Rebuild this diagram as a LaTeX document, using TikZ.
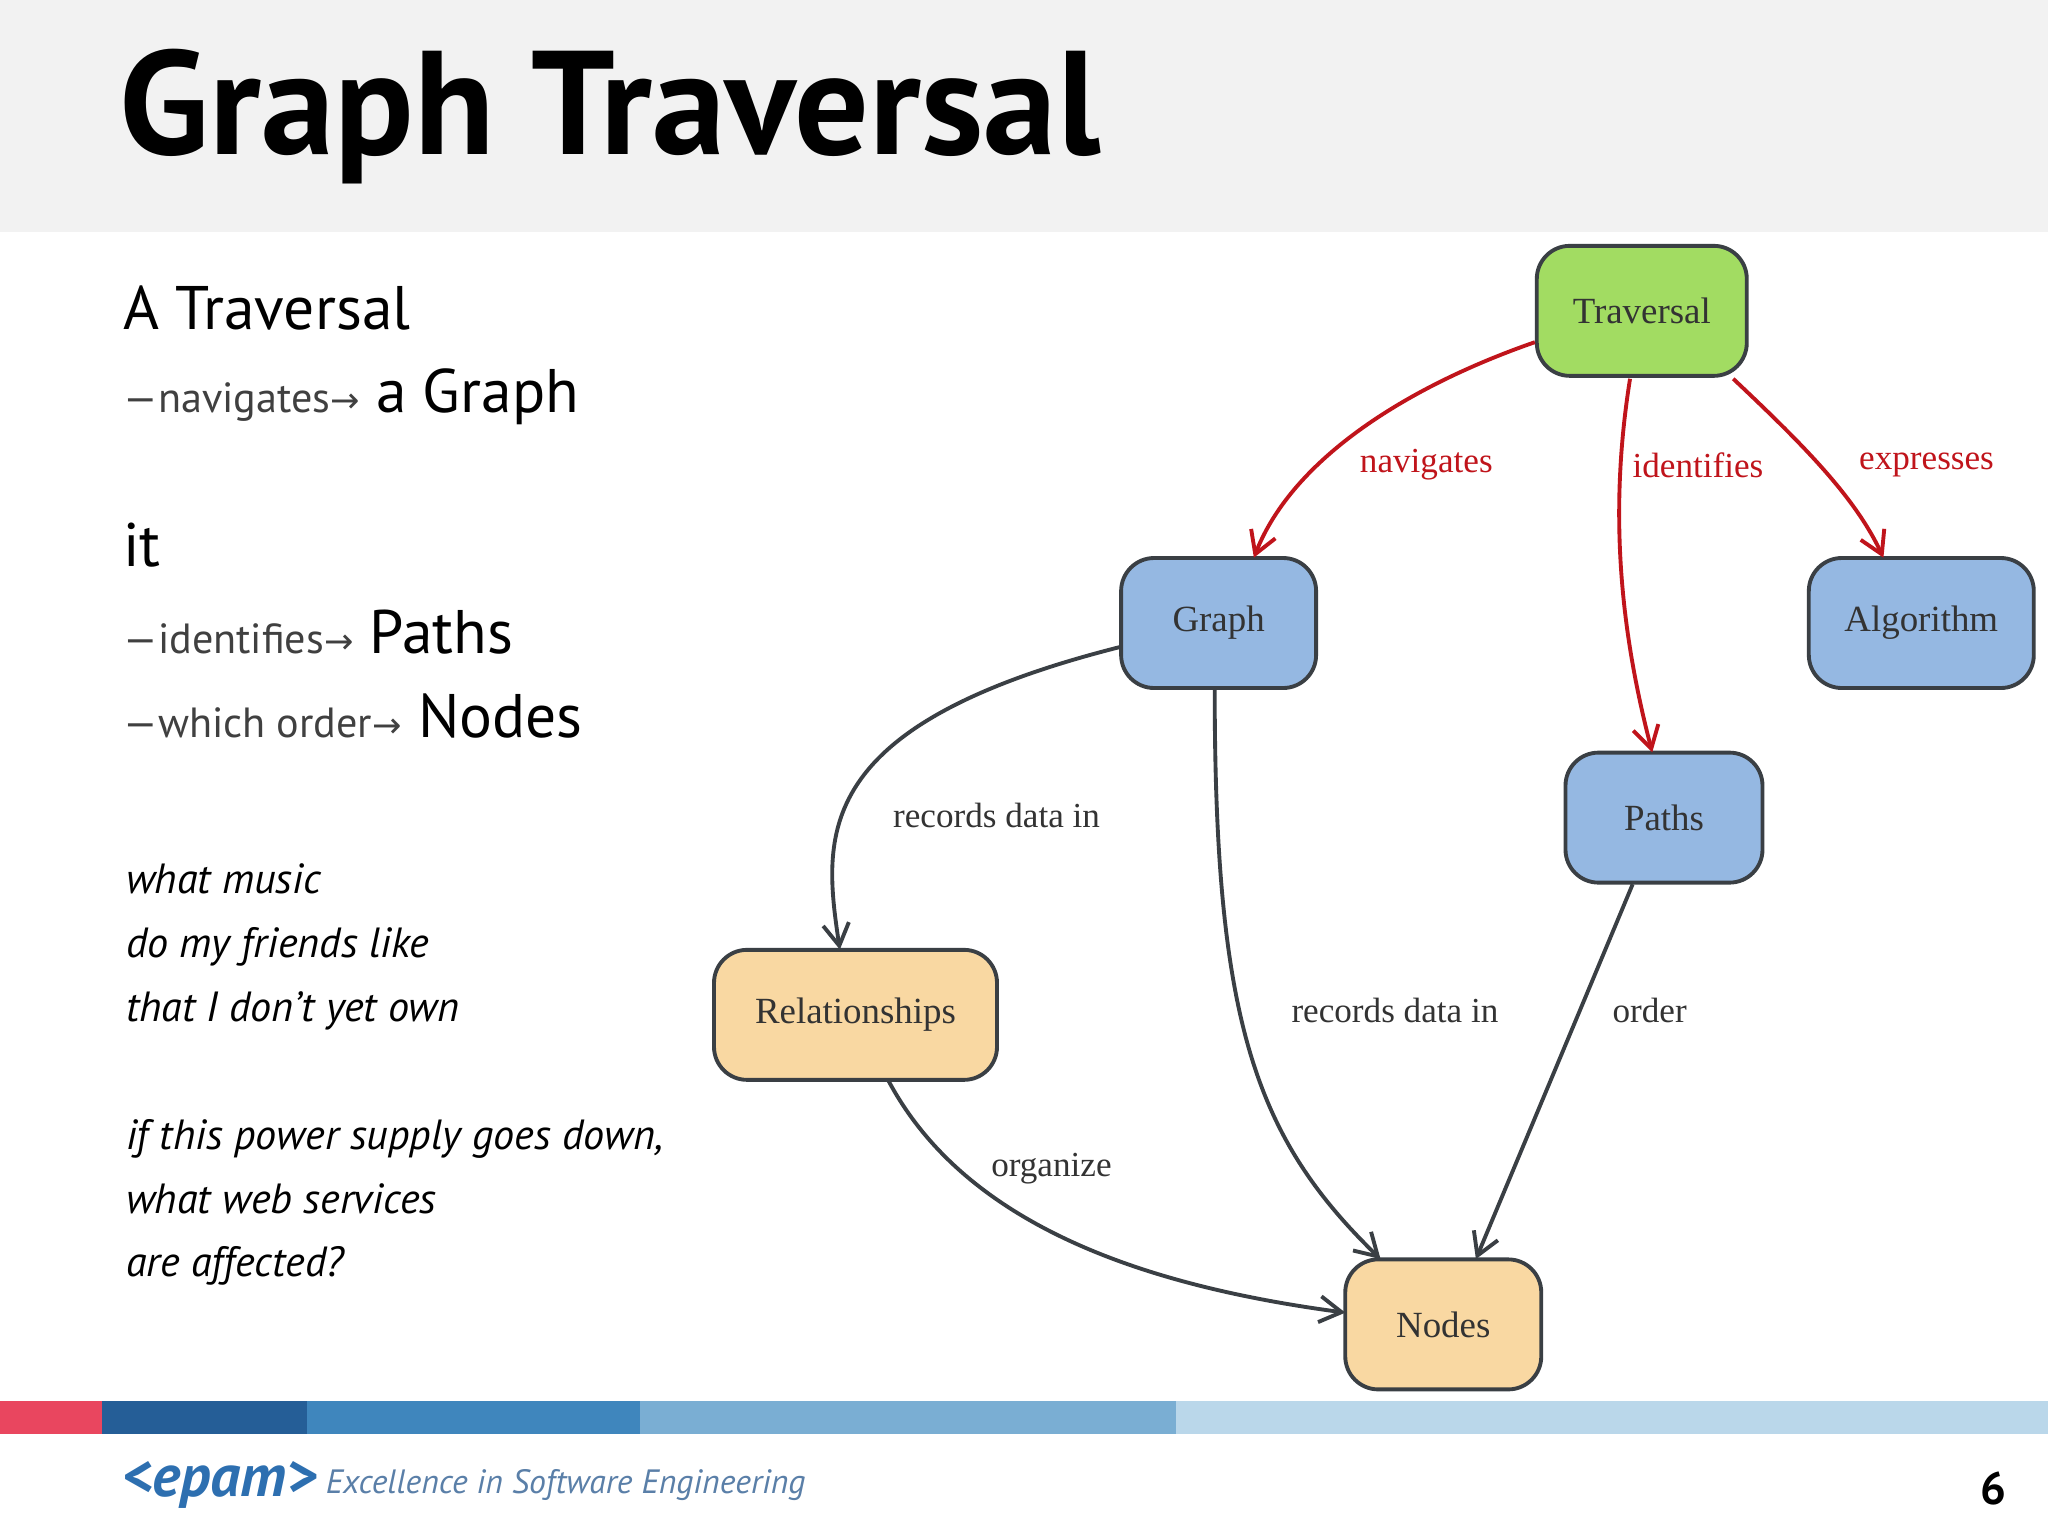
\documentclass[tikz,border=0pt]{standalone}
\usepackage{fontspec}
\setmainfont{PT Sans}
\newfontfamily\serf{Liberation Serif}
\newfontfamily\dvs{DejaVu Sans}
\usetikzlibrary{arrows.meta}
\definecolor{bord}{HTML}{3A3F44}
\definecolor{gr}{HTML}{A2DC62}
\definecolor{bl}{HTML}{95B8E2}
\definecolor{pc}{HTML}{F9D8A2}
\definecolor{rd}{HTML}{C0141B}
\definecolor{lbl}{HTML}{333333}
\definecolor{f1}{HTML}{E9465F}
\definecolor{f2}{HTML}{255E97}
\definecolor{f3}{HTML}{3F86BD}
\definecolor{f4}{HTML}{7AAED3}
\definecolor{f5}{HTML}{BAD7EA}
\definecolor{logoc}{HTML}{2D6FB0}
\definecolor{tagc}{HTML}{5A7FA8}
\newcommand\smtxt[1]{{\fontsize{12}{15}\selectfont\color{black!75}#1{\dvs\fontsize{10}{12}\selectfont →}}}
\begin{document}
\begin{tikzpicture}[x=0.013061cm,y=-0.013061cm,
 box/.style={draw=bord,line width=1.1pt,rounded corners=0.33cm,minimum height=1.3cm,font=\serf\fontsize{10.5}{12}\selectfont,text=lbl},
 redar/.style={draw=rd,line width=1.1pt,-{Straight Barb[length=0.22cm,width=0.26cm,line width=1.1pt]}},
 darar/.style={draw=bord,line width=1.1pt,-{Straight Barb[length=0.22cm,width=0.26cm,line width=1.1pt]}},
 elab/.style={font=\serf\fontsize{10}{12}\selectfont},
 lt/.style={anchor=base west,font=\fontsize{17.5}{21}\selectfont},
 it/.style={anchor=base west,font=\itshape\fontsize{12}{14}\selectfont}]
\useasboundingbox (0,0) rectangle (1568,1176);
\fill[white] (0,0) rectangle (1568,1176);
\fill[black!5] (0,0) rectangle (1568,178);
\node[anchor=base west,font=\bfseries\fontsize{42}{50}\selectfont] (title) at (82,118) {Graph Traversal};
% left text
\node[lt] (t1) at (85,252) {A Traversal};
\node[lt] (t2) at (85,316) {\smtxt{—navigates} a Graph};
\node[lt] (t3) at (85,434) {it};
\node[lt] (t4) at (85,500) {\smtxt{—identifies} Paths};
\node[lt] (t5) at (85,565) {\smtxt{—which order} Nodes};
\node[it] (i1) at (87,684) {what music};
\node[it] (i2) at (87,733) {do my friends like};
\node[it] (i3) at (87,782) {that I don’t yet own};
\node[it] (i4) at (87,880) {if this power supply goes down,};
\node[it] (i5) at (87,929) {what web services};
\node[it] (i6) at (87,977) {are affected?};
% nodes
\node[box,fill=gr,minimum width=2.1cm] (trav) at (1257,238) {Traversal};
\node[box,fill=bl,minimum width=1.95cm] (graph) at (933,477) {Graph};
\node[box,fill=bl,minimum width=2.25cm] (alg) at (1471,477) {Algorithm};
\node[box,fill=bl,minimum width=1.97cm] (paths) at (1274,626) {Paths};
\node[box,fill=pc,minimum width=2.83cm] (rel) at (655,777) {Relationships};
\node[box,fill=pc,minimum width=1.96cm] (nodes) at (1105,1014) {Nodes};
% edges
\draw[redar] (trav.west) ++(0,24) .. controls (1080,295) and (990,350) .. (960,427);
\draw[redar] (1248,290) .. controls (1232,390) and (1240,480) .. (1265,576);
\draw[redar] (1327,290) .. controls (1380,340) and (1420,380) .. (1442,427);
\draw[darar] (859,495) .. controls (620,555) and (630,640) .. (643,727);
\draw[darar] (930,527) .. controls (930,780) and (960,870) .. (1057,964);
\draw[darar] (1250,677) -- (1130,964);
\draw[darar] (680,827) .. controls (740,940) and (880,985) .. (1030,1005);
\node[elab,text=rd] (l1) at (1092,356) {navigates};
\node[elab,text=rd] (l2) at (1300,356) {identifies};
\node[elab,text=rd] (l3) at (1475,356) {expresses};
\node[elab,text=lbl] (l4) at (763,624) {records data in};
\node[elab,text=lbl] (l5) at (1068,774) {records data in};
\node[elab,text=lbl] (l6) at (1263,774) {order};
\node[elab,text=lbl] (l7) at (805,895) {organize};
% footer
\fill[f1] (0,1073) rectangle (78,1098);
\fill[f2] (78,1073) rectangle (235,1098);
\fill[f3] (235,1073) rectangle (490,1098);
\fill[f4] (490,1073) rectangle (900,1098);
\fill[f5] (900,1073) rectangle (1568,1098);
\node[anchor=west,font=\bfseries\itshape\fontsize{17}{20}\selectfont,text=logoc] (logo) at (84,1137) {<epam>};
\node[anchor=west,font=\itshape\fontsize{9.6}{12}\selectfont,text=tagc] (tag) at (240,1137) {Excellence in Software Engineering};
\node[font=\bfseries\fontsize{13}{15}\selectfont] (pg) at (1526,1140) {6};
\end{tikzpicture}
\end{document}
